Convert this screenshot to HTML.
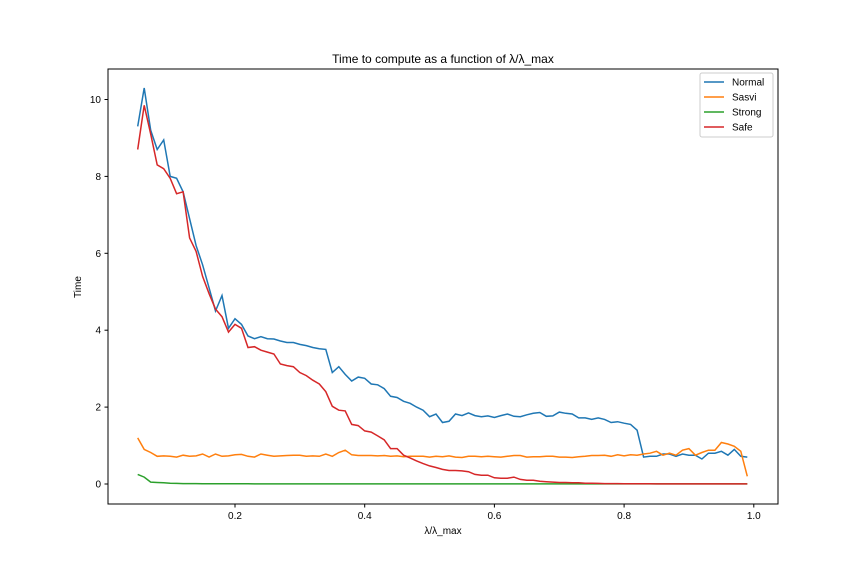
<!DOCTYPE html>
<html><head><meta charset="utf-8"><style>
body{margin:0;background:#fff;}
svg text{font-family:"Liberation Sans","DejaVu Sans",sans-serif;}
</style></head><body>
<svg id="chart" width="864" height="576" xmlns="http://www.w3.org/2000/svg">
<rect width="864" height="576" fill="#fff"/>
<g id="marks"></g>
<rect x="108" y="69" width="670" height="435" fill="none" stroke="#000" stroke-width="1"/>
<g id="axes"></g>
<text x="443" y="63" text-anchor="middle" font-size="12">Time to compute as a function of λ/λ_max</text>
<text x="443" y="534" text-anchor="middle" font-size="10">λ/λ_max</text>
<text x="81" y="287" text-anchor="middle" font-size="10" transform="rotate(-90 81 287)">Time</text>
<g id="legend"></g>
</svg>
<script>
const xs = [0.05,0.06,0.07,0.08,0.09,0.10,0.11,0.12,0.13,0.14,0.15,0.16,0.17,0.18,0.19,0.20,0.21,0.22,0.23,0.24,0.25,0.26,0.27,0.28,0.29,0.30,0.31,0.32,0.33,0.34,0.35,0.36,0.37,0.38,0.39,0.40,0.41,0.42,0.43,0.44,0.45,0.46,0.47,0.48,0.49,0.50,0.51,0.52,0.53,0.54,0.55,0.56,0.57,0.58,0.59,0.60,0.61,0.62,0.63,0.64,0.65,0.66,0.67,0.68,0.69,0.70,0.71,0.72,0.73,0.74,0.75,0.76,0.77,0.78,0.79,0.80,0.81,0.82,0.83,0.84,0.85,0.86,0.87,0.88,0.89,0.90,0.91,0.92,0.93,0.94,0.95,0.96,0.97,0.98,0.99];
const normal = [9.3,10.3,9.2,8.7,8.95,8.0,7.95,7.6,6.9,6.2,5.7,5.1,4.5,4.9,4.05,4.3,4.15,3.85,3.78,3.83,3.78,3.77,3.72,3.68,3.68,3.63,3.6,3.55,3.52,3.5,2.9,3.05,2.85,2.68,2.78,2.75,2.6,2.58,2.48,2.28,2.25,2.15,2.1,2.0,1.92,1.75,1.82,1.6,1.63,1.82,1.78,1.85,1.78,1.75,1.77,1.73,1.78,1.82,1.76,1.75,1.8,1.84,1.86,1.76,1.77,1.87,1.84,1.82,1.72,1.72,1.68,1.72,1.68,1.6,1.62,1.58,1.55,1.4,0.7,0.72,0.72,0.78,0.78,0.72,0.78,0.75,0.75,0.65,0.8,0.8,0.85,0.75,0.9,0.72,0.7];
const sasvi = [1.2,0.9,0.82,0.72,0.73,0.72,0.7,0.75,0.72,0.73,0.78,0.7,0.78,0.72,0.73,0.76,0.77,0.72,0.7,0.78,0.75,0.72,0.73,0.74,0.75,0.75,0.72,0.73,0.72,0.78,0.72,0.82,0.88,0.76,0.74,0.74,0.74,0.73,0.74,0.72,0.73,0.71,0.72,0.72,0.72,0.7,0.72,0.71,0.73,0.7,0.69,0.72,0.72,0.71,0.72,0.71,0.7,0.72,0.74,0.74,0.7,0.71,0.71,0.72,0.72,0.7,0.7,0.69,0.71,0.72,0.74,0.74,0.75,0.72,0.76,0.73,0.76,0.75,0.78,0.8,0.85,0.75,0.8,0.75,0.88,0.92,0.75,0.82,0.88,0.88,1.08,1.04,0.98,0.85,0.2];
const strong = [0.25,0.18,0.05,0.04,0.03,0.02,0.015,0.01,0.01,0.01,0.008,0.005,0.005,0.005,0.005,0.004,0.004,0.004,0.003,0.003,0.003,0.003,0.003,0.003,0.003,0.003,0.003,0.003,0.003,0.003,0.003,0.002,0.002,0.002,0.002,0.002,0.002,0.002,0.002,0.002,0.002,0.002,0.002,0.002,0.002,0.002,0.002,0.002,0.002,0.002,0.002,0.002,0.002,0.002,0.002,0.002,0.002,0.002,0.002,0.002,0.002,0.002,0.002,0.002,0.002,0.002,0.002,0.002,0.002,0.002,0.002,0.002,0.002,0.002,0.002,0.002,0.002,0.002,0.002,0.002,0.002,0.002,0.002,0.002,0.002,0.002,0.002,0.002,0.002,0.002,0.002,0.002,0.002,0.002,0.002];
const safe = [8.7,9.85,9.1,8.3,8.2,7.95,7.55,7.6,6.4,6.05,5.4,4.95,4.55,4.35,3.95,4.15,4.05,3.55,3.57,3.48,3.43,3.38,3.12,3.08,3.05,2.9,2.82,2.7,2.6,2.4,2.02,1.92,1.9,1.55,1.52,1.38,1.35,1.25,1.15,0.92,0.92,0.75,0.68,0.6,0.53,0.47,0.43,0.38,0.35,0.35,0.34,0.32,0.25,0.23,0.23,0.16,0.15,0.15,0.18,0.12,0.1,0.1,0.07,0.06,0.05,0.04,0.04,0.03,0.03,0.02,0.02,0.015,0.01,0.01,0.01,0.008,0.006,0.005,0.004,0.004,0.003,0.003,0.003,0.003,0.003,0.003,0.003,0.003,0.003,0.003,0.003,0.003,0.003,0.003,0.003];
const xTicks = [0.2,0.4,0.6,0.8,1.0];
const xTickLabels = ["0.2","0.4","0.6","0.8","1.0"];
const yTicks = [0,2,4,6,8,10];
const seriesNames = ["Normal","Sasvi","Strong","Safe"];
const seriesColors = ["#1f77b4","#ff7f0e","#2ca02c","#d62728"];

const NS = "http://www.w3.org/2000/svg";
function xScale(v){return 105.3 + v*648.5;}
function yScale(v){return 484 - v*38.45;}
const marks = document.getElementById('marks');
const axes = document.getElementById('axes');
const allSeries = [normal,sasvi,strong,safe];
allSeries.forEach((s,i)=>{
  const p = document.createElementNS(NS,'polyline');
  
  
  p.setAttribute('points', s.map((v,j)=>xScale(xs[j]).toFixed(1)+','+yScale(v).toFixed(1)).join(' '));
  p.setAttribute('fill','none');
  p.setAttribute('stroke',seriesColors[i]);
  p.setAttribute('stroke-width','1.5');
  marks.appendChild(p);
});
xTicks.forEach((t,i)=>{
  const x = xScale(t);
  const l = document.createElementNS(NS,'line');
  
  
  l.setAttribute('x1',x);l.setAttribute('x2',x);l.setAttribute('y1',504);l.setAttribute('y2',507.5);l.setAttribute('stroke','#000');
  axes.appendChild(l);
  const tx = document.createElementNS(NS,'text');
  
  
  tx.setAttribute('x',x);tx.setAttribute('y',519);tx.setAttribute('text-anchor','middle');tx.setAttribute('font-size','10');
  tx.textContent = xTickLabels[i];
  axes.appendChild(tx);
});
yTicks.forEach(t=>{
  const y = yScale(t);
  const l = document.createElementNS(NS,'line');
  
  
  l.setAttribute('x1',104.5);l.setAttribute('x2',108);l.setAttribute('y1',y);l.setAttribute('y2',y);l.setAttribute('stroke','#000');
  axes.appendChild(l);
  const tx = document.createElementNS(NS,'text');
  
  
  tx.setAttribute('x',101);tx.setAttribute('y',y+3.5);tx.setAttribute('text-anchor','end');tx.setAttribute('font-size','10');
  tx.textContent = String(t);
  axes.appendChild(tx);
});
const lg = document.getElementById('legend');
const box = document.createElementNS(NS,'rect');


box.setAttribute('x',700);box.setAttribute('y',73);box.setAttribute('width',73);box.setAttribute('height',64);box.setAttribute('rx',2);
box.setAttribute('fill','#fff');box.setAttribute('stroke','#ccc');
lg.appendChild(box);
seriesNames.forEach((n,i)=>{
  const y = 82 + i*15;
  const l = document.createElementNS(NS,'line');
  
  
  l.setAttribute('x1',704);l.setAttribute('x2',724);l.setAttribute('y1',y);l.setAttribute('y2',y);
  l.setAttribute('stroke',seriesColors[i]);l.setAttribute('stroke-width','1.5');
  lg.appendChild(l);
  const tx = document.createElementNS(NS,'text');
  
  
  tx.setAttribute('x',732);tx.setAttribute('y',y+3.5);tx.setAttribute('font-size','10');
  tx.textContent = n;
  lg.appendChild(tx);
});
</script>
</body></html>
